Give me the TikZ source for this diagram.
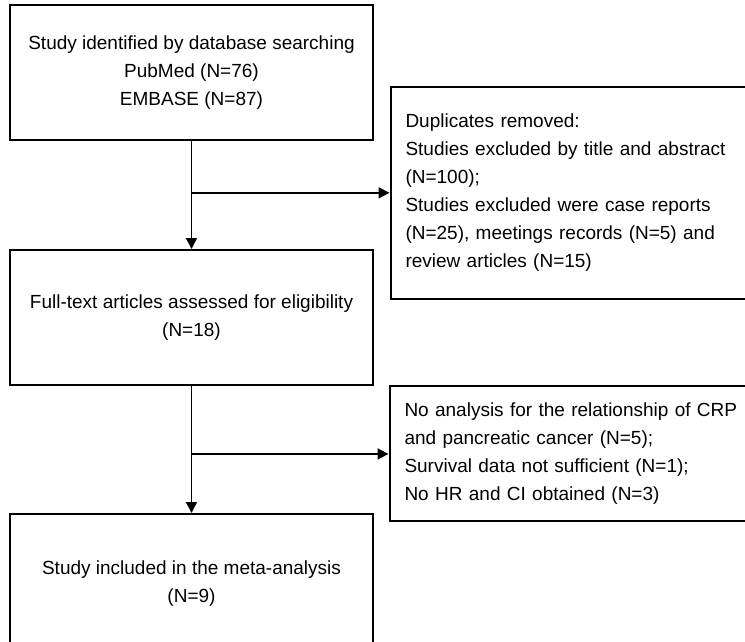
\documentclass[tikz,border=0pt]{standalone}
\usepackage{fontspec}
\setmainfont{Liberation Sans}
\usetikzlibrary{arrows.meta,positioning,calc}

\begin{document}
\begin{tikzpicture}[x=1pt, y=1pt, node distance=108pt and 18pt, every node/.style={font=\fontsize{19}{28}\selectfont}, box/.style={draw,line width=2pt,minimum width=363pt,minimum height=135pt,align=center}, side/.style={draw,line width=2pt,text width=339pt,inner xsep=15pt,minimum height=135pt,align=left}, arr/.style={-{Triangle[length=11pt,width=11pt]},line width=1.6pt}]
\clip (0,0) rectangle (745,-642);
\node[box] (search) at (191.5,-72.5) {Study identified by database searching\\PubMed (N=76)\\EMBASE (N=87)};
\node[box,below=of search] (full) {Full-text articles assessed for eligibility\\(N=18)};
\node[box,below=127pt of full,minimum height=140pt] (incl) {Study included in the meta-analysis\\(N=9)};
\coordinate (j1) at ($(search.south)!0.48!(full.north)$);
\coordinate (j2) at ($(full.south)!0.535!(incl.north)$);
\node[side,right=198pt of j1,minimum height=212pt] (dup) {Duplicates removed:\\Studies excluded by title and abstract\\(N=100);\\Studies excluded were case reports\\(N=25), meetings records (N=5) and\\review articles (N=15)};
\node[side,right=197pt of j2] (excl) {No analysis for the relationship of CRP\\and pancreatic cancer (N=5);\\Survival data not sufficient (N=1);\\No HR and CI obtained (N=3)};
\draw[arr] (search)--(full);
\draw[arr] (j1)--(dup);
\draw[arr] (full)--(incl);
\draw[arr] (j2)--(excl);
\end{tikzpicture}
\end{document}
